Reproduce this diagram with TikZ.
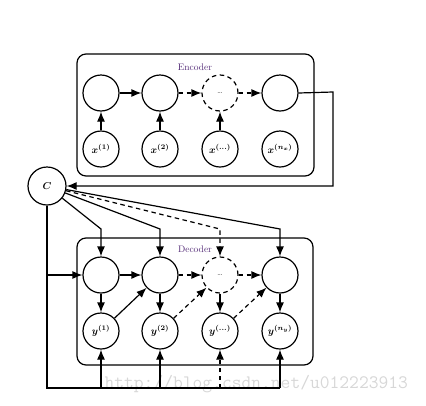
\documentclass[tikz,border=0pt]{standalone}
\usepackage{fontspec}
\usepackage{amsmath,bm}
\usetikzlibrary{arrows.meta}
\definecolor{lblc}{RGB}{85,45,120}
\definecolor{wmc}{RGB}{215,215,215}
\begin{document}
\begin{tikzpicture}[x=1pt,y=-1pt, line width=1.2pt,
  cnode/.style={circle,draw,minimum size=36pt,inner sep=0pt,font=\fontsize{10}{11}\selectfont},
  dnode/.style={cnode,dash pattern=on 4.5pt off 3.5pt},
  arr/.style={-{Latex[length=10pt,width=8pt]}},
  dsh/.style={dash pattern=on 4.5pt off 3.5pt},
  box/.style={draw,rounded corners=9pt},
  lbl/.style={text=lblc,font=\fontsize{9.5}{10}\selectfont,inner sep=0pt},
  wm/.style={text=wmc,font=\ttfamily\fontsize{19}{20}\selectfont,inner sep=0pt,anchor=west}]
\useasboundingbox (0,0) rectangle (426,405);

% watermark (behind)
\node[wm] (wmk) at (104,384) {http://blog.csdn.net/u012223913};

% boxes
\draw[box] (77,54) rectangle (314,176);
\draw[box] (77,238) rectangle (313,365);
\node[lbl] (enc) at (195,67) {Encoder};
\node[lbl] (dec) at (195,249) {Decoder};

% encoder
\node[cnode] (e1) at (101,93) {};
\node[cnode] (e2) at (160,93) {};
\node[dnode] (e3) at (220,93) {\footnotesize\ldots};
\node[cnode] (e4) at (280,93) {};
\node[cnode] (x1) at (101,149) {$\bm{x^{(1)}}$};
\node[cnode] (x2) at (160,149) {$\bm{x^{(2)}}$};
\node[cnode] (x3) at (220,149) {$\bm{x^{(\ldots)}}$};
\node[cnode] (x4) at (280,149) {$\bm{x^{(n_x)}}$};

\draw[arr] (e1) -- (e2);
\draw[arr,dsh] (e2) -- (e3);
\draw[arr,dsh] (e3) -- (e4);
\draw[arr] (x1) -- (e1);
\draw[arr] (x2) -- (e2);
\draw[arr] (x3) -- (e3);

% context
\node[cnode,minimum size=38pt] (C) at (47,186) {$\bm{C}$};
\coordinate (r1) at (333,92);
\coordinate (r2) at (333,186);
\draw[arr] (e4.east) -- (r1) -- (r2) -- (C);

% decoder
\node[cnode] (d1) at (101,275) {};
\node[cnode] (d2) at (160,275) {};
\node[dnode] (d3) at (220,275) {\footnotesize\ldots};
\node[cnode] (d4) at (280,275) {};
\node[cnode] (y1) at (101,331) {$\bm{y^{(1)}}$};
\node[cnode] (y2) at (160,331) {$\bm{y^{(2)}}$};
\node[cnode] (y3) at (220,331) {$\bm{y^{(\ldots)}}$};
\node[cnode] (y4) at (280,331) {$\bm{y^{(n_y)}}$};

\draw[arr] (d1) -- (d2);
\draw[arr,dsh] (d2) -- (d3);
\draw[arr,dsh] (d3) -- (d4);
\draw[arr] (d1) -- (y1);
\draw[arr] (d2) -- (y2);
\draw[arr] (d3) -- (y3);
\draw[arr] (d4) -- (y4);
\draw[arr] (y1) -- (d2);
\draw[arr,dsh] (y2) -- (d3);
\draw[arr,dsh] (y3) -- (d4);

% C to decoder top
\coordinate (k1) at (101,229);
\coordinate (k2) at (160,229);
\coordinate (k3) at (220,229);
\coordinate (k4) at (280,229);
\draw[arr] (C) -- (k1) -- (d1);
\draw[arr] (C) -- (k2) -- (d2);
\draw[arr,dsh] (C) -- (k3) -- (d3);
\draw[arr] (C) -- (k4) -- (d4);

% C to decoder bottom
\coordinate (m) at (47,275);
\coordinate (b0) at (47,388);
\coordinate (b1) at (101,388);
\coordinate (b2) at (160,388);
\coordinate (b3) at (220,388);
\coordinate (b4) at (280,388);
\draw (C) -- (b0) -- (b4);
\draw[arr] (m) -- (d1);
\draw[arr] (b1) -- (y1);
\draw[arr] (b2) -- (y2);
\draw[arr,dsh] (b3) -- (y3);
\draw[arr] (b4) -- (y4);
\end{tikzpicture}
\end{document}
